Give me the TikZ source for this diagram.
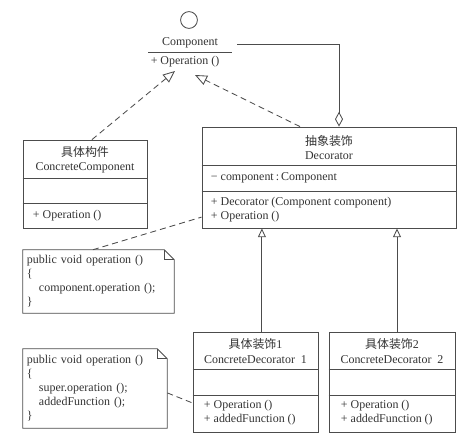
\documentclass[tikz,border=0pt]{standalone}
\usepackage{fontspec}
\setmainfont{Liberation Serif}
\newfontfamily\cjk{Noto Sans CJK SC}
\usetikzlibrary{arrows.meta}

\begin{document}
\begin{tikzpicture}[
        x=0.025cm, y=-0.025cm,
        every node/.style={
            text=black!80,
            font=\fontsize{8.5}{10}\selectfont
        },
        classBox/.style={
            rectangle,
            draw=black!70,
            line width=0.6pt,
            inner sep=0pt
        },
        noteBox/.style={
            rectangle,
            inner sep=0pt,
            align=left
        },
        line/.style={
            draw=black!70,
            line width=0.6pt
        },
        dashline/.style={
            line,
            dash pattern=on 0.15cm off 0.1cm
        },
        realize/.style={
            dashline,
            -{Triangle[open,length=0.3cm,width=0.25cm]}
        },
        inherit/.style={
            line,
            -{Triangle[open,length=0.22cm,width=0.2cm]}
        },
        aggregate/.style={
            line,
            -{Diamond[open,length=0.37cm,width=0.2cm]}
        }
    ]
        \useasboundingbox (0,0) rectangle (458,436);

        \node[circle, draw=black!70, line width=0.6pt, minimum size=0.42cm, inner sep=0pt] (iface) at (189,20) {};
        \node (compname) at (190,43) {Component};
        \draw[line] (148,52) -- (232,52);
        \node (compop) at (185,62) {+ Operation ()};
        \coordinate (tipA) at (175,71);
        \coordinate (tipB) at (195,75);
        \coordinate (aggStart) at (237,44);

        \node[classBox, minimum width=3.1cm, minimum height=2.2cm] (cc) at (85,184) {};
        \node[align=center] (ccname) at (85,160) {{\cjk 具体构件}\\ConcreteComponent};
        \draw[line] (cc.west |- 0,178) -- (cc.east |- 0,178);
        \draw[line] (cc.west |- 0,203) -- (cc.east |- 0,203);
        \node[anchor=west] (ccop) at (28,216) {+ Operation ()};

        \node[classBox, minimum width=6.35cm, minimum height=2.525cm] (dec) at (329,177.5) {};
        \node[align=center] (decname) at (329,147.5) {{\cjk 抽象装饰}\\Decorator};
        \draw[line] (dec.west |- 0,165) -- (dec.east |- 0,165);
        \draw[line] (dec.west |- 0,191) -- (dec.east |- 0,191);
        \node[anchor=west] (decattr) at (206,178) {− component\,:\,Component};
        \node[anchor=west, align=left] (decop) at (206,209.5) {+ Decorator (Component component)\\+ Operation ()};

        \node[classBox, minimum width=3.125cm, minimum height=2.5cm] (cd1) at (255.5,382) {};
        \node[align=center] (cd1name) at (255.5,351) {{\cjk 具体装饰}1\\ConcreteDecorator\ \ 1};
        \draw[line] (cd1.west |- 0,369) -- (cd1.east |- 0,369);
        \draw[line] (cd1.west |- 0,395) -- (cd1.east |- 0,395);
        \node[anchor=west, align=left] (cd1op) at (199,413) {+ Operation ()\\+ addedFunction ()};

        \node[classBox, minimum width=3.15cm, minimum height=2.5cm] (cd2) at (392,382) {};
        \node[align=center] (cd2name) at (392,351) {{\cjk 具体装饰}2\\ConcreteDecorator\ \ 2};
        \draw[line] (cd2.west |- 0,369) -- (cd2.east |- 0,369);
        \draw[line] (cd2.west |- 0,395) -- (cd2.east |- 0,395);
        \node[anchor=west, align=left] (cd2op) at (336,413) {+ Operation ()\\+ addedFunction ()};

        \node[noteBox, minimum width=3.775cm, minimum height=1.575cm, text width=3.575cm] (note1) at (98.5,281.5)
            {public void operation ()\\\{\\\hspace*{0.3cm}component.operation ();\\\}};
        \draw[line] (note1.north west) -- ([xshift=-0.25cm]note1.north east) -- ([yshift=-0.25cm]note1.north east)
            -- (note1.south east) -- (note1.south west) -- cycle;
        \draw[line] ([xshift=-0.25cm]note1.north east) |- ([yshift=-0.25cm]note1.north east);

        \node[noteBox, minimum width=3.6cm, minimum height=1.975cm, text width=3.4cm] (note2) at (95,388.5)
            {public void operation ()\\\{\\\hspace*{0.3cm}super.operation ();\\\hspace*{0.3cm}addedFunction ();\\\}};
        \draw[line] (note2.north west) -- ([xshift=-0.25cm]note2.north east) -- ([yshift=-0.25cm]note2.north east)
            -- (note2.south east) -- (note2.south west) -- cycle;
        \draw[line] ([xshift=-0.25cm]note2.north east) |- ([yshift=-0.25cm]note2.north east);

        \draw[realize] ([xshift=0.175cm]cc.north) -- (tipA);
        \draw[realize] ([xshift=-0.725cm]dec.north) -- (tipB);
        \draw[aggregate] (aggStart) -| ([xshift=0.25cm]dec.north);

        \draw[inherit] ([xshift=0.16cm]cd1.north) -- ([xshift=0.16cm]cd1.north |- dec.south);
        \draw[inherit] ([xshift=0.125cm]cd2.north) -- ([xshift=0.125cm]cd2.north |- dec.south);

        \draw[dashline] ([xshift=-0.14cm]note1.north) -- ([yshift=-0.99cm]dec.west);
        \draw[dashline] ([yshift=-0.11cm]note2.east) -- ([yshift=-0.525cm]cd1.west);

    \end{tikzpicture}
\end{document}
